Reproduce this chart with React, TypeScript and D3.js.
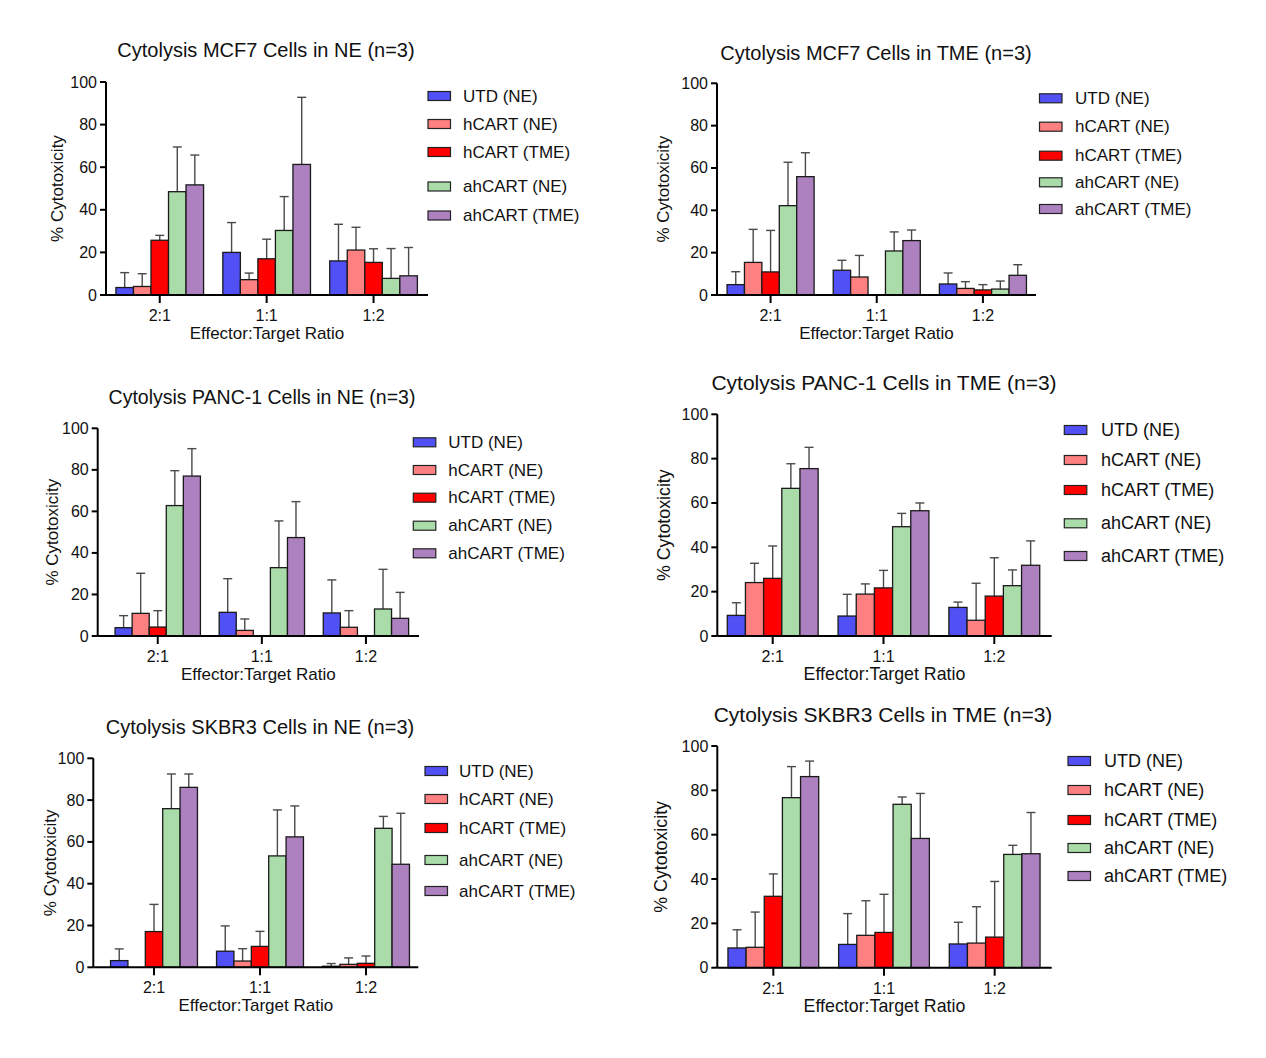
import React from "react";
import * as d3 from "d3";

const ratios = ["2:1", "1:1", "1:2"];
const groups = ["UTD (NE)", "hCART (NE)", "hCART (TME)", "ahCART (NE)", "ahCART (TME)"];
const groupColors = ["#5050f5", "#ff8080", "#ff0000", "#aadcaa", "#ad80c0"];
const yTicks = [0, 20, 40, 60, 80, 100];

// mean % cytotoxicity per ratio (rows) and group (columns), plus SD
const mcf7NeMean = [
  [3.5, 4, 25.7, 48.5, 51.7],
  [20, 7.2, 17, 30.3, 61.3],
  [16, 21.1, 15.3, 7.8, 9],
];
const mcf7NeSd = [
  [7, 6, 2.3, 21, 14],
  [14, 3.1, 9.2, 15.9, 31.5],
  [17.2, 10.7, 6.4, 14, 13.3],
];
const mcf7TmeMean = [
  [4.9, 15.4, 10.9, 42.2, 55.9],
  [11.7, 8.5, 0, 20.8, 25.7],
  [5.2, 3.1, 2.4, 2.8, 9.3],
];
const mcf7TmeSd = [
  [6.1, 15.6, 19.6, 20.5, 11.3],
  [4.7, 10.2, 0, 9, 5],
  [5.2, 3.2, 2.5, 3.8, 5],
];
const panc1NeMean = [
  [4, 10.9, 4.3, 62.8, 77],
  [11.4, 2.7, 0, 32.9, 47.4],
  [11.1, 4.2, 0, 13, 8.5],
];
const panc1NeSd = [
  [5.8, 19.3, 7.9, 16.8, 13.2],
  [16.2, 5.5, 0, 22.5, 17.3],
  [15.9, 8, 0, 19.1, 12.5],
];
const panc1TmeMean = [
  [9.3, 24.1, 26, 66.6, 75.5],
  [9, 18.9, 21.7, 49.3, 56.5],
  [12.9, 7.1, 18, 22.7, 31.9],
];
const panc1TmeSd = [
  [5.7, 8.7, 14.6, 11.1, 9.6],
  [9.8, 4.6, 7.9, 6, 3.5],
  [2.4, 16.7, 17.3, 7.1, 11],
];
const skbr3NeMean = [
  [3.2, 0, 17.1, 75.9, 86.1],
  [7.7, 3, 10, 53.3, 62.4],
  [0.5, 1.4, 1.9, 66.5, 49.3],
];
const skbr3NeSd = [
  [5.6, 0, 13, 16.6, 6.4],
  [12.1, 5.9, 7.2, 22, 14.8],
  [1.3, 3.1, 3.5, 5.7, 24.4],
];
const skbr3TmeMean = [
  [8.9, 9.2, 32.2, 76.7, 86.2],
  [10.5, 14.6, 15.9, 73.7, 58.3],
  [10.7, 11.1, 13.8, 51.1, 51.4],
];
const skbr3TmeSd = [
  [8.2, 15.9, 10.1, 14, 7],
  [13.9, 15.6, 17.2, 3.3, 20.3],
  [9.8, 16.4, 25.1, 4.1, 18.6],
];

interface PanelLayout {
  title: string;
  titleX: number;
  titleY: number;
  titleSize: number;
  axisX: number;
  bandX0: number;
  bandX1: number;
  axisEnd: number;
  yTop: number;
  y0: number;
  yLabelX: number;
  labelSize: number;
  legendX: number;
  legendTextX: number;
  legendRows: number[];
  legendSize: number;
}

const FONT = "'Liberation Sans', Arial, Helvetica, sans-serif";

const panels: { layout: PanelLayout; mean: number[][]; sd: number[][] }[] = [
  {
    layout: {
      title: "Cytolysis MCF7 Cells in NE (n=3)",
      titleX: 266, titleY: 57, titleSize: 20,
      axisX: 106, bandX0: 106.3, bandX1: 427, axisEnd: 428,
      yTop: 82, y0: 295, yLabelX: 57, labelSize: 17,
      legendX: 428, legendTextX: 463, legendRows: [96, 124, 152, 186.5, 215.5], legendSize: 17,
    },
    mean: mcf7NeMean,
    sd: mcf7NeSd,
  },
  {
    layout: {
      title: "Cytolysis MCF7 Cells in TME (n=3)",
      titleX: 876, titleY: 60, titleSize: 20,
      axisX: 717, bandX0: 717.5, bandX1: 1036, axisEnd: 1036,
      yTop: 83.3, y0: 295, yLabelX: 663, labelSize: 17,
      legendX: 1039.5, legendTextX: 1075, legendRows: [98.3, 126.7, 155.7, 182.3, 209], legendSize: 17,
    },
    mean: mcf7TmeMean,
    sd: mcf7TmeSd,
  },
  {
    layout: {
      title: "Cytolysis PANC-1 Cells in NE (n=3)",
      titleX: 262, titleY: 404, titleSize: 19.5,
      axisX: 97.7, bandX0: 105.7, bandX1: 418, axisEnd: 419,
      yTop: 428.3, y0: 636, yLabelX: 52.7, labelSize: 17,
      legendX: 413.3, legendTextX: 448.3, legendRows: [442.3, 470, 497.7, 525.7, 553.3], legendSize: 17,
    },
    mean: panc1NeMean,
    sd: panc1NeSd,
  },
  {
    layout: {
      title: "Cytolysis PANC-1 Cells in TME (n=3)",
      titleX: 884, titleY: 390, titleSize: 21,
      axisX: 717.3, bandX0: 717.3, bandX1: 1049.7, axisEnd: 1051.7,
      yTop: 414.3, y0: 636, yLabelX: 664, labelSize: 17.8,
      legendX: 1064.3, legendTextX: 1101, legendRows: [430, 460, 490, 523.3, 556], legendSize: 18,
    },
    mean: panc1TmeMean,
    sd: panc1TmeSd,
  },
  {
    layout: {
      title: "Cytolysis SKBR3 Cells in NE (n=3)",
      titleX: 260, titleY: 734, titleSize: 20,
      axisX: 93.3, bandX0: 101, bandX1: 419, axisEnd: 418.3,
      yTop: 758.3, y0: 967.3, yLabelX: 50, labelSize: 17,
      legendX: 425, legendTextX: 459, legendRows: [771, 799, 828, 860, 891], legendSize: 17,
    },
    mean: skbr3NeMean,
    sd: skbr3NeSd,
  },
  {
    layout: {
      title: "Cytolysis SKBR3 Cells in TME (n=3)",
      titleX: 883, titleY: 722, titleSize: 21,
      axisX: 717.3, bandX0: 718, bandX1: 1050, axisEnd: 1051.7,
      yTop: 746, y0: 967.7, yLabelX: 660.7, labelSize: 17.8,
      legendX: 1068, legendTextX: 1104, legendRows: [761, 790, 820, 848, 876], legendSize: 18,
    },
    mean: skbr3TmeMean,
    sd: skbr3TmeSd,
  },
];

const Panel: React.FC<{ layout: PanelLayout; mean: number[][]; sd: number[][] }> = ({
  layout: L,
  mean,
  sd,
}) => {
  const x0 = d3
    .scaleBand<string>()
    .domain(ratios)
    .range([L.bandX0, L.bandX1])
    .paddingInner(0.18)
    .paddingOuter(0.09);
  const x1 = d3.scaleBand<string>().domain(groups).range([0, x0.bandwidth()]);
  const y = d3.scaleLinear().domain([0, 100]).range([L.y0, L.yTop]);
  const capHalf = 4.5;

  return (
    <g fontFamily={FONT}>
      <text x={L.titleX} y={L.titleY} textAnchor="middle" fontSize={L.titleSize} fill="#111">
        {L.title}
      </text>

      {/* bars with upper SD whiskers */}
      {ratios.map((r, ri) =>
        groups.map((g, gi) => {
          const v = mean[ri][gi];
          if (v <= 0) return null;
          const bx = (x0(r) ?? 0) + (x1(g) ?? 0);
          const cx = bx + x1.bandwidth() / 2;
          const top = y(v + sd[ri][gi]);
          return (
            <g key={`${r}-${g}`}>
              {sd[ri][gi] > 0 && (
                <g stroke="#4a4a4a" strokeWidth={1.4}>
                  <line x1={cx} x2={cx} y1={y(v)} y2={top} />
                  <line x1={cx - capHalf} x2={cx + capHalf} y1={top} y2={top} />
                </g>
              )}
              <rect
                x={bx}
                y={y(v)}
                width={x1.bandwidth()}
                height={L.y0 - y(v)}
                fill={groupColors[gi]}
                stroke="#1a1a1a"
                strokeWidth={1.3}
              />
            </g>
          );
        })
      )}

      {/* y axis */}
      <line x1={L.axisX} x2={L.axisX} y1={L.y0} y2={L.yTop} stroke="#000" strokeWidth={2} />
      {yTicks.map((t) => (
        <g key={t}>
          <line x1={L.axisX - 6} x2={L.axisX} y1={y(t)} y2={y(t)} stroke="#000" strokeWidth={2} />
          <text
            x={L.axisX - 9}
            y={y(t)}
            textAnchor="end"
            dominantBaseline="central"
            fontSize={16}
            fill="#111"
          >
            {t}
          </text>
        </g>
      ))}
      <text
        transform={`translate(${L.yLabelX}, ${(L.y0 + L.yTop) / 2}) rotate(-90)`}
        textAnchor="middle"
        dominantBaseline="central"
        fontSize={L.labelSize}
        fill="#111"
      >
        % Cytotoxicity
      </text>

      {/* x axis */}
      <line x1={L.axisX} x2={L.axisEnd} y1={L.y0} y2={L.y0} stroke="#000" strokeWidth={2} />
      {ratios.map((r) => {
        const cx = (x0(r) ?? 0) + x0.bandwidth() / 2;
        return (
          <g key={r}>
            <line x1={cx} x2={cx} y1={L.y0} y2={L.y0 + 8} stroke="#000" strokeWidth={2} />
            <text x={cx} y={L.y0 + 26} textAnchor="middle" fontSize={16} fill="#111">
              {r}
            </text>
          </g>
        );
      })}
      <text
        x={(L.axisX + L.axisEnd) / 2}
        y={L.y0 + 44}
        textAnchor="middle"
        fontSize={L.labelSize}
        fill="#111"
      >
        Effector:Target Ratio
      </text>

      {/* legend */}
      {groups.map((g, gi) => (
        <g key={g}>
          <rect
            x={L.legendX}
            y={L.legendRows[gi] - 4.5}
            width={22.5}
            height={9}
            fill={groupColors[gi]}
            stroke="#222"
            strokeWidth={1.2}
          />
          <text
            x={L.legendTextX}
            y={L.legendRows[gi]}
            dominantBaseline="central"
            fontSize={L.legendSize}
            fill="#111"
          >
            {g}
          </text>
        </g>
      ))}
    </g>
  );
};

export default function App() {
  return (
    <div style={{ position: "absolute", left: 0, top: 0 }}>
      <svg width={1266} height={1058} viewBox="0 0 1266 1058" style={{ display: "block", background: "#fff" }}>
        {panels.map((p, i) => (
          <Panel key={i} layout={p.layout} mean={p.mean} sd={p.sd} />
        ))}
      </svg>
    </div>
  );
}
